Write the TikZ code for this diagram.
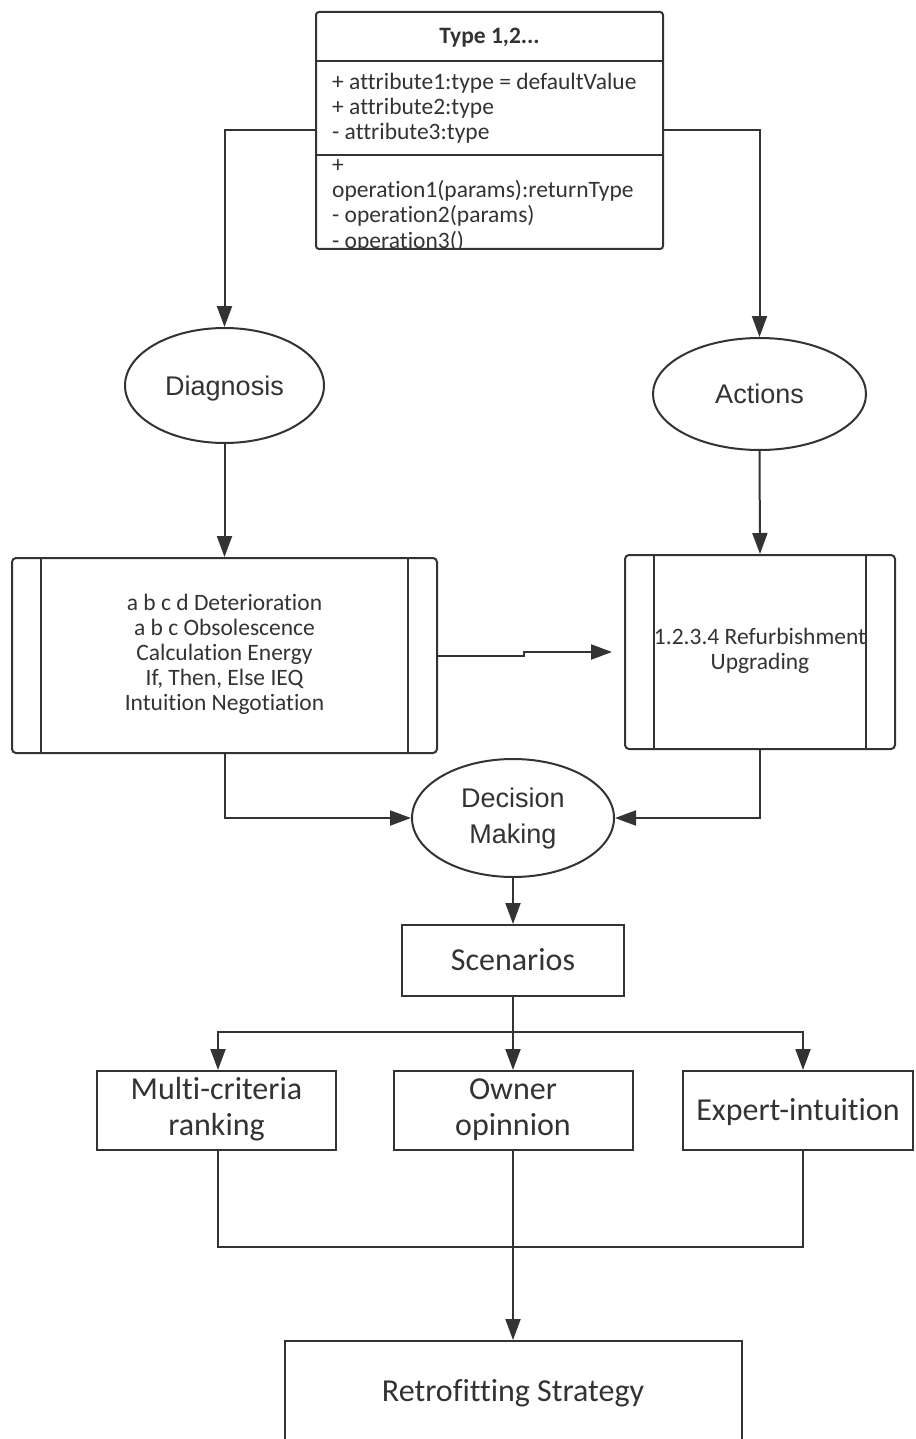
\documentclass[tikz,border=0pt]{standalone}
\usepackage{fontspec}
\setmainfont{Carlito}[Ligatures={NoCommon}]
\newfontfamily\ellfont{Liberation Sans}
\usetikzlibrary{arrows.meta,shapes.geometric,calc}
\definecolor{ink}{HTML}{333333}
\begin{document}
\begin{tikzpicture}[x=1pt,y=-1pt,
  every node/.style={text=ink},
  line/.style={draw=ink,line width=2pt},
  arr/.style={line,-{Triangle[length=21pt,width=15pt]}},
  ell/.style={ellipse,draw=ink,line width=2pt,inner sep=0pt,align=center,
    font=\ellfont\fontsize{27}{36}\selectfont},
  proc/.style={rectangle,rounded corners=4pt,draw=ink,line width=2pt,inner sep=0pt,
    align=center,font=\fontsize{23.5}{25}\selectfont},
  plainbox/.style={rectangle,draw=ink,line width=2pt,inner sep=0pt,align=center,
    font=\fontsize{32}{36}\selectfont},
  onecap/.style={text height=20.6pt,text depth=0pt},
  umltxt/.style={anchor=base west,inner sep=0pt,font=\fontsize{23.5}{25}\selectfont}]

\useasboundingbox[fill=white] (0,0) rectangle (915,1439);

% ---------- class box ----------
\node[draw=ink,line width=2pt,rounded corners=3pt,minimum width=347pt,
      minimum height=237pt,inner sep=0pt] (uml) at (489.5,130.5) {};
\draw[line] (uml.west |- 0,61) -- (uml.east |- 0,61);
\draw[line] (uml.west |- 0,155) -- (uml.east |- 0,155);
\node[anchor=base,inner sep=0pt,font=\bfseries\fontsize{23.5}{25}\selectfont]
  (ttl) at (489.5,44) {Type 1,2...};
\begin{scope}
  \clip (316,12) rectangle (663,249);
  \node[umltxt] (a1) at (332,90)  {+ attribute1:type = defaultValue};
  \node[umltxt] (a2) at (332,115) {+ attribute2:type};
  \node[umltxt] (a3) at (332,140) {- attribute3:type};
  \node[umltxt] (o0) at (332,173) {+};
  \node[umltxt] (o1) at (332,198) {operation1(params):returnType};
  \node[umltxt] (o2) at (332,223) {- operation2(params)};
  \node[umltxt] (o3) at (332,248) {- operation3()};
\end{scope}

% ---------- ellipses ----------
\node[ell,minimum width=199pt,minimum height=115pt,text height=19.3pt,text depth=0pt]
  (diag) at (224.5,385.5) {Diagnosis};
\node[ell,minimum width=213pt,minimum height=112pt,text height=19.3pt,text depth=0pt]
  (act) at (759.5,394) {Actions};

% ---------- process boxes ----------
\node[proc,minimum width=425pt,minimum height=195pt] (diagbox) at (224.5,655.5)
  {\strut a b c d Deterioration\\\strut a b c Obsolescence\\\strut Calculation Energy\\
   \strut If, Then, Else IEQ\\\strut Intuition Negotiation};
\draw[line] ([xshift=30pt]diagbox.north west) -- ([xshift=30pt]diagbox.south west);
\draw[line] ([xshift=-30pt]diagbox.north east) -- ([xshift=-30pt]diagbox.south east);

\node[proc,minimum width=270pt,minimum height=194pt] (actbox) at (760,652)
  {\strut 1.2.3.4 Refurbishment\\\strut Upgrading};
\draw[line] ([xshift=30pt]actbox.north west) -- ([xshift=30pt]actbox.south west);
\draw[line] ([xshift=-30pt]actbox.north east) -- ([xshift=-30pt]actbox.south east);

% ---------- decision and scenarios ----------
\node[ell,minimum width=202pt,minimum height=118pt] (dm) at (513,818)
  {\strut Decision\\\strut Making};
\node[plainbox,onecap,minimum width=222pt,minimum height=71pt] (scen) at (513,960.5) {Scenarios};

\node[plainbox,minimum width=239pt,minimum height=79pt] (multi) at (216.5,1110.5)
  {\strut Multi-criteria\\\strut ranking};
\node[plainbox,minimum width=239pt,minimum height=79pt] (owner) at (513,1110.5)
  {\strut Owner\\\strut opinnion};
\node[plainbox,onecap,minimum width=230pt,minimum height=79pt] (expert) at (798,1110.5)
  {Expert-intuition};
\node[plainbox,onecap,minimum width=457pt,minimum height=100pt] (retro) at (513,1391)
  {Retrofitting Strategy};

% ---------- connectors ----------
\draw[arr] (uml.west) -| (diag.north);
\draw[arr] (uml.east) -| (act.north);
\draw[arr] (diag.south) -- (diagbox.north);
\draw[arr] (act.south) -- (actbox.north);
\draw[arr,shorten >=12pt] (diagbox.east) -- ++(86,0) |- (actbox.west);
\draw[arr] (diagbox.south) |- (dm.west);
\draw[arr] (actbox.south) |- (dm.east);
\draw[arr] (dm.south) -- (scen.north);

\coordinate (br) at (513,1032);
\draw[line,line width=2.6pt] (scen.south) -- (br);
\draw[arr] (scen.south) -- (owner.north);
\draw[arr] (br) -| ([xshift=1.5pt]multi.north);
\draw[arr] (br) -| ([xshift=5pt]expert.north);

\draw[line] ([xshift=1.5pt]multi.south) -- ++(0,96) -| ([xshift=5pt]expert.south);
\coordinate (mg) at (513,1246);
\draw[line,line width=2.6pt] (mg) -- ([yshift=20pt]retro.north);
\draw[arr] (owner.south) -- (retro.north);
\end{tikzpicture}
\end{document}
